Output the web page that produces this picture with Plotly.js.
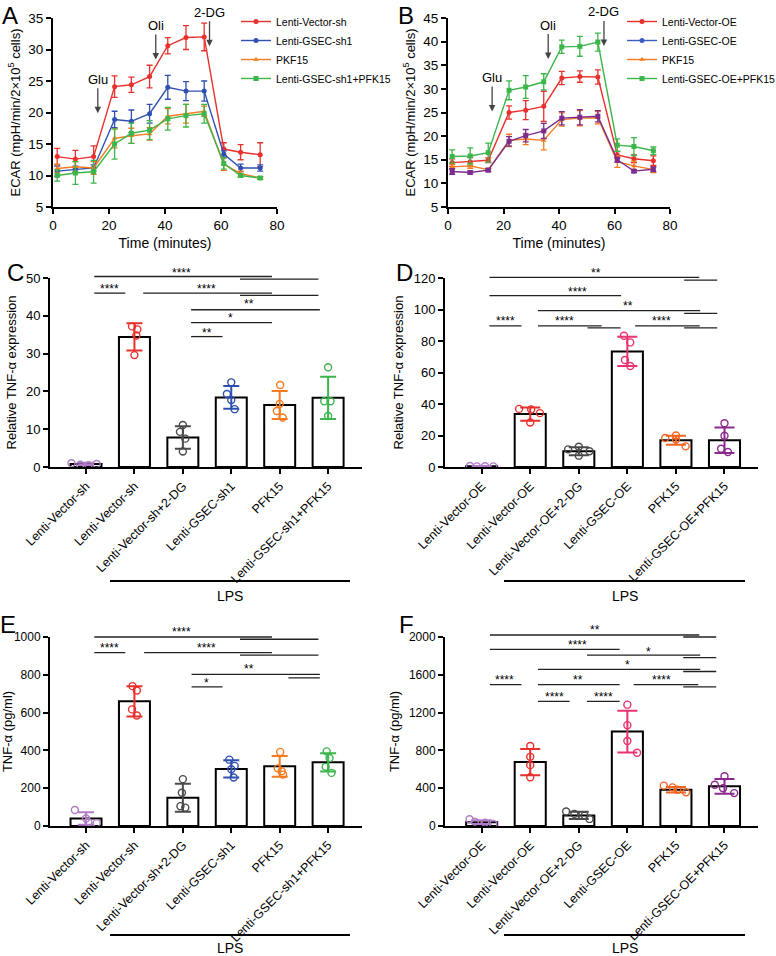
<!DOCTYPE html>
<html><head><meta charset="utf-8">
<script src="https://cdn.plot.ly/plotly-3.0.1.min.js"></script>
<style>html,body{margin:0;padding:0;background:#fff}#chart{width:776px;height:956px}</style>
</head><body><div id="chart"></div>
<script>
// ---------------- DATA ----------------
// Panel A / B : ECAR time courses
const timeMin = [1.5, 8, 14.5, 22, 28, 34.5, 41, 47.5, 54, 61, 67, 74];

const aNames = ["Lenti-Vector-sh", "Lenti-GSEC-sh1", "PKF15", "Lenti-GSEC-sh1+PFK15"];
const aVectorSh      = [13.0, 12.6, 13.0, 24.1, 24.4, 25.7, 30.6, 31.9, 32.0, 14.2, 13.7, 13.3];
const aVectorShErr   = [1.3, 1.4, 1.7, 1.7, 1.2, 1.8, 1.3, 1.9, 2.2, 1.0, 1.2, 1.9];
const aGsecSh1       = [10.7, 11.0, 11.2, 18.9, 18.6, 19.8, 24.0, 23.4, 23.4, 13.4, 11.2, 11.2];
const aGsecSh1Err    = [0.8, 0.5, 0.5, 1.3, 1.8, 1.5, 1.9, 1.5, 1.6, 0.5, 0.6, 0.5];
const aPkf15         = [11.1, 11.4, 11.2, 15.9, 16.3, 16.6, 19.4, 19.8, 20.2, 11.8, 10.3, 9.6];
const aPkf15Err      = [0.7, 0.8, 1.0, 1.5, 1.2, 1.0, 1.2, 1.5, 0.8, 1.0, 0.4, 0.2];
const aGsecSh1Pfk    = [10.0, 10.4, 10.6, 15.0, 16.7, 17.2, 19.0, 19.5, 19.8, 11.9, 10.0, 9.6];
const aGsecSh1PfkErr = [0.9, 1.8, 1.8, 2.4, 1.6, 1.5, 1.8, 1.8, 1.5, 0.9, 0.3, 0.2];

const bNames = ["Lenti-Vector-OE", "Lenti-GSEC-OE", "PKF15", "Lenti-GSEC-OE+PFK15"];
const bVectorOE      = [14.4, 14.6, 14.9, 25.0, 25.5, 26.3, 32.3, 32.6, 32.5, 16.0, 15.2, 14.8];
const bVectorOEErr   = [0.8, 0.9, 0.5, 1.4, 2.0, 3.2, 1.4, 1.2, 1.5, 0.7, 0.8, 1.0];
const bGsecOE        = [12.5, 12.3, 12.8, 18.9, 20.1, 21.1, 23.8, 24.0, 24.2, 15.0, 12.6, 13.0];
const bGsecOEErr     = [0.6, 0.3, 0.3, 1.0, 1.3, 1.6, 1.4, 1.6, 1.2, 0.5, 0.3, 0.5];
const bPkf15         = [13.5, 13.7, 12.9, 19.1, 19.4, 19.1, 23.5, 23.8, 23.9, 14.6, 13.7, 12.9];
const bPkf15Err      = [0.5, 0.5, 0.3, 1.3, 1.2, 2.0, 1.4, 1.6, 1.3, 1.2, 1.0, 0.6];
const bGsecOEPfk     = [15.7, 15.8, 16.5, 29.7, 30.4, 31.5, 38.9, 39.0, 39.9, 18.1, 17.8, 16.9];
const bGsecOEPfkErr  = [1.4, 1.7, 2.0, 2.0, 2.4, 1.7, 1.4, 2.1, 1.9, 1.3, 1.9, 0.8];

const eventLabels = ["Glu", "Oli", "2-DG"];
const aEventTime = [16, 36.7, 55.9];
const aEventTip  = [19.9, 28.4, 30.5];
const bEventTime = [15.9, 36.1, 56.2];
const bEventTip  = [25.2, 36.3, 39.1];

// Panel C / E (sh groups)
const shLabels = ["Lenti-Vector-sh", "Lenti-Vector-sh", "Lenti-Vector-sh+2-DG", "Lenti-GSEC-sh1", "PFK15", "Lenti-GSEC-sh1+PFK15"];
const cMean = [0.8, 34.4, 7.8, 18.4, 16.4, 18.3];
const cSD   = [0.3, 3.6, 3.0, 3.0, 3.7, 5.6];
const cPts  = [[1.0, 0.6, 0.5, 0.8], [37.2, 36.4, 34.8, 29.6], [11.1, 9.3, 7.5, 4.1],
               [22.4, 19.3, 17.7, 15.3], [21.7, 16.7, 14.8, 13.1], [26.4, 17.4, 17.4, 13.5]];
const eMean = [40, 660, 150, 302, 316, 337];
const eSD   = [33, 80, 74, 46, 55, 48];
const ePts  = [[85, 40, 20, 15], [740, 717, 617, 585], [248, 176, 105, 97],
               [351, 318, 300, 257], [392, 305, 290, 272], [395, 360, 313, 281]];

// Panel D / F (OE groups)
const oeLabels = ["Lenti-Vector-OE", "Lenti-Vector-OE", "Lenti-Vector-OE+2-DG", "Lenti-GSEC-OE", "PFK15", "Lenti-GSEC-OE+PFK15"];
const dMean = [0.5, 33.6, 10.0, 73.4, 17.0, 17.0];
const dSD   = [0.2, 4.2, 2.6, 9.3, 2.8, 8.1];
const dPts  = [[0.6, 0.4, 0.5, 0.4], [36.9, 36.5, 34.2, 28.3], [11.2, 12.9, 10.0, 7.2],
               [83.3, 79.1, 67.9, 64.1], [18.4, 20.0, 17.5, 13.1], [27.8, 19.8, 11.6, 9.5]];
const fMean = [40, 676, 112, 999, 384, 420];
const fSD   = [20, 140, 38, 220, 30, 78];
const fPts  = [[71, 46, 36, 21], [846, 732, 644, 516], [153, 128, 110, 75],
               [1284, 1067, 900, 775], [427, 409, 384, 356], [526, 437, 400, 348]];

// significance comparisons: [fromCategory, toCategory, yValue]
const cBrackets = [[0.17,3.84,50.4],[3.18,4.80,49.7],[0.17,0.81,46.0],[1.18,3.84,46.0],[3.18,4.80,45.4],[2.17,4.83,41.6],[2.17,3.84,38.2],[2.17,2.82,34.5]];
const cStars = [["****",1.98,52.2],["****",0.48,48.0],["****",2.49,48.0],["**",3.36,43.8],["*",2.98,40.1],["**",2.49,36.3]];
const dBrackets = [[0.16,4.48,120.4],[4.17,4.85,118.7],[0.16,2.87,108.8],[1.16,4.50,99.3],[4.17,4.85,97.6],[0.16,0.82,89.6],[1.16,2.47,89.6],[2.18,2.86,88.3],[3.16,4.49,89.6],[4.17,4.85,88.3]];
const dStars = [["**",2.36,125.1],["****",1.98,113.2],["**",3.01,103.9],["****",0.49,94.4],["****",1.71,94.4],["****",3.71,94.4]];
const eBrackets = [[0.17,3.84,1000],[3.18,4.80,988],[0.17,0.81,917],[1.20,3.84,917],[3.18,4.80,904],[2.18,4.83,802],[4.18,4.83,784],[2.18,2.82,736]];
const eStars = [["****",1.98,1041],["****",0.48,959],["****",2.49,959],["**",3.36,844],["*",2.49,770]];
const fBrackets = [[0.17,4.48,2021],[4.15,4.83,2000],[0.17,2.84,1869],[2.17,4.50,1809],[4.15,4.83,1781],[1.16,4.50,1657],[4.15,4.83,1635],[0.17,0.82,1497],[1.16,2.84,1497],[3.13,4.46,1497],[4.15,4.83,1473],[1.16,1.81,1319],[2.17,2.84,1319]];
const fStars = [["**",2.34,2106],["****",1.98,1950],["*",3.44,1869],["*",3.01,1738],["****",0.48,1579],["**",1.98,1579],["****",3.70,1579],["****",1.49,1397],["****",2.50,1397]];

// ---------------- STYLE ----------------
const W = 776, H = 956;
const px = p => p / W;
const py = p => 1 - p / H;
const FONT = 'Liberation Sans, Arial, Helvetica, sans-serif';

const colRed = '#e8302c', colBlue = '#2f50b0', colOrange = '#f47b20', colGreen = '#3cb54a';
const colPurpleLight = '#b07cc6', colGrey = '#4a4a4a', colPink = '#e8336f', colOrange2 = '#f26522', colPurple = '#8a2a8c';
const shColors = [colPurpleLight, colRed, colGrey, colBlue, colOrange, colGreen];
const oeColors = [colPurpleLight, colRed, colGrey, colPink, colOrange2, colPurple];

// horizontal scatter of replicate points (style only)
const jitC = [[-0.30,-0.12,0.05,0.22],[-0.05,0.06,0.04,0.0],[0.0,-0.06,0.05,0.0],[0.0,-0.09,0.0,0.07],[0.01,0.0,-0.06,0.06],[0.0,-0.08,0.05,0.0]];
const jitD = [[-0.24,-0.10,0.07,0.24],[-0.23,0.02,0.20,0.0],[-0.22,0.0,0.22,0.0],[-0.07,0.06,-0.05,0.06],[-0.22,0.0,0.0,0.20],[0.0,0.0,-0.07,0.07]];
const jitE = [[-0.23,0.0,0.05,0.22],[-0.04,0.05,-0.05,0.05],[0.0,-0.02,-0.05,0.05],[-0.04,0.07,0.0,0.05],[0.01,-0.04,0.04,0.07],[-0.03,0.03,-0.05,0.07]];
const jitF = [[-0.25,-0.14,0.07,0.24],[0,0,0,0],[-0.26,-0.09,0.12,0.22],[0,0,0,0.2],[-0.25,-0.07,0.03,0.21],[0.0,-0.2,-0.03,0.2]];

const traces = [];

function lineTrace(x, y, err, name, color, symbol, xa, ya, legend, showlegend) {
  return {
    type: 'scatter', mode: 'lines+markers', x: x, y: y, name: name,
    xaxis: xa, yaxis: ya, legend: legend, showlegend: showlegend,
    line: {color: color, width: 1.4},
    marker: {color: color, symbol: symbol, size: 5},
    error_y: {type: 'data', array: err, color: color, thickness: 1.3, width: 3},
    hoverinfo: 'skip'
  };
}

// Panel A
traces.push(lineTrace(timeMin, aVectorSh, aVectorShErr, aNames[0], colRed, 'circle', 'x', 'y', 'legend', true));
traces.push(lineTrace(timeMin, aGsecSh1, aGsecSh1Err, aNames[1], colBlue, 'circle', 'x', 'y', 'legend', true));
traces.push(lineTrace(timeMin, aPkf15, aPkf15Err, aNames[2], colOrange, 'triangle-up', 'x', 'y', 'legend', true));
traces.push(lineTrace(timeMin, aGsecSh1Pfk, aGsecSh1PfkErr, aNames[3], colGreen, 'square', 'x', 'y', 'legend', true));

// Panel B
traces.push(lineTrace(timeMin, bVectorOE, bVectorOEErr, bNames[0], colRed, 'circle', 'x2', 'y2', 'legend2', true));
traces.push(lineTrace(timeMin, bPkf15, bPkf15Err, bNames[2], colOrange, 'triangle-up', 'x2', 'y2', 'legend2', false));
traces.push(lineTrace(timeMin, bGsecOE, bGsecOEErr, bNames[1], '#7b2d8e', 'square', 'x2', 'y2', 'legend2', false));
traces.push(lineTrace(timeMin, bGsecOEPfk, bGsecOEPfkErr, bNames[3], colGreen, 'square', 'x2', 'y2', 'legend2', false));
// legend entries in original order (legend shows blue for Lenti-GSEC-OE)
traces.push({type:'scatter', mode:'lines+markers', x:[null], y:[null], name:bNames[1], xaxis:'x2', yaxis:'y2', legend:'legend2',
  line:{color:'#3a5bbf', width:1.4}, marker:{color:'#3a5bbf', size:5}});
traces.push({type:'scatter', mode:'lines+markers', x:[null], y:[null], name:bNames[2], xaxis:'x2', yaxis:'y2', legend:'legend2',
  line:{color:colOrange, width:1.4}, marker:{color:colOrange, symbol:'triangle-up', size:5}});
traces.push({type:'scatter', mode:'lines+markers', x:[null], y:[null], name:bNames[3], xaxis:'x2', yaxis:'y2', legend:'legend2',
  line:{color:colGreen, width:1.4}, marker:{color:colGreen, symbol:'square', size:5}});

const cats = [0, 1, 2, 3, 4, 5];
function barPanel(mean, sd, pts, jit, colors, xa, ya, bya, brackets, capW) {
  traces.push({type:'bar', x: cats, y: mean, xaxis: xa, yaxis: ya, width: 0.64, showlegend:false, hoverinfo:'skip',
    marker:{color:'#ffffff', line:{color:'#000', width:2}}});
  cats.forEach(i => {
    traces.push({type:'scatter', mode:'markers', x:[i], y:[mean[i]], xaxis: xa, yaxis: ya, showlegend:false, hoverinfo:'skip',
      marker:{size:1, color:'rgba(0,0,0,0)'},
      error_y:{type:'data', array:[sd[i]], color: colors[i], thickness: 2, width: capW}});
    traces.push({type:'scatter', mode:'markers', x: jit[i].map(j => i + j), y: pts[i], xaxis: xa, yaxis: ya, showlegend:false, hoverinfo:'skip',
      marker:{symbol:'circle-open', size:7, color: colors[i], line:{width:1.4}}});
  });
  const bx = [], by = [];
  brackets.forEach(b => { bx.push(b[0], b[1], null); by.push(b[2], b[2], null); });
  traces.push({type:'scatter', mode:'lines', x: bx, y: by, xaxis: xa, yaxis: bya, showlegend:false, hoverinfo:'skip',
    line:{color:'#222', width:1.3}});
}
barPanel(cMean, cSD, cPts, jitC, shColors, 'x3', 'y3', 'y7', cBrackets, 8);
barPanel(dMean, dSD, dPts, jitD, oeColors, 'x4', 'y4', 'y8', dBrackets, 10);
barPanel(eMean, eSD, ePts, jitE, shColors, 'x5', 'y5', 'y9', eBrackets, 8);
barPanel(fMean, fSD, fPts, jitF, oeColors, 'x6', 'y6', 'y10', fBrackets, 10);

// ---------------- LAYOUT ----------------
const axBase = {showline:true, linewidth:2, linecolor:'#000', ticks:'outside', ticklen:5, tickwidth:2, tickcolor:'#000',
  showgrid:false, zeroline:false, tickfont:{size:13.5, color:'#000'}, automargin:false, fixedrange:true};

const yTop1 = 18, yBot1 = 207;
const yTop2 = 278, yBot2 = 467;
const yTop3 = 637, yBot3 = 826;
const catRangeSh = [-0.744, 5.70];
const catRangeOe = [-0.755, 5.69];

function catAxis(dom, rng, labels, anchor) {
  return Object.assign({}, axBase, {domain: dom, range: rng, anchor: anchor, tickvals: cats, ticktext: labels,
    tickangle: -45, tickfont:{size:12.5, color:'#000'}});
}
function extAxis(dom, rng, anchor, extra) {
  const h = dom[1] - dom[0];
  return {domain:[dom[0], dom[1] + extra], range:[rng[0], rng[0] + (rng[1] - rng[0]) * (h + extra) / h],
    visible:false, anchor: anchor, fixedrange:true, showgrid:false, zeroline:false};
}

const dA = [py(yBot1), py(yTop1)], dC = [py(yBot2), py(yTop2)], dE = [py(yBot3), py(yTop3)];

const layout = {
  width: W, height: H, margin:{l:0, r:0, t:0, b:0, autoexpand:false}, paper_bgcolor:'#fff', plot_bgcolor:'rgba(0,0,0,0)',
  font:{family: FONT, color:'#000', size:13}, showlegend:true, barmode:'overlay',
  xaxis: Object.assign({}, axBase, {domain:[px(53), px(277)], range:[0, 80], dtick:20, anchor:'y',
    title:{text:'Time (minutes)', font:{size:14}, standoff:6}}),
  yaxis: Object.assign({}, axBase, {domain: dA, range:[5, 35], dtick:5, anchor:'x',
    title:{text:'ECAR (mpH/min/2×10<sup>5</sup> cells)', font:{size:13}, standoff:5}}),
  xaxis2: Object.assign({}, axBase, {domain:[px(448), px(670)], range:[0, 80], dtick:20, anchor:'y2',
    title:{text:'Time (minutes)', font:{size:14}, standoff:6}}),
  yaxis2: Object.assign({}, axBase, {domain: dA, range:[5, 45], dtick:5, anchor:'x2',
    title:{text:'ECAR (mpH/min/2×10<sup>5</sup> cells)', font:{size:13}, standoff:5}}),
  xaxis3: catAxis([px(50), px(362)], catRangeSh, shLabels, 'y3'),
  yaxis3: Object.assign({}, axBase, {domain: dC, range:[0, 50], dtick:10, anchor:'x3', tickfont:{size:13, color:'#000'},
    title:{text:'Relative TNF-α expression', font:{size:13}, standoff:6}}),
  xaxis4: catAxis([px(445), px(758)], catRangeOe, oeLabels, 'y4'),
  yaxis4: Object.assign({}, axBase, {domain: dC, range:[0, 120], dtick:20, anchor:'x4', tickfont:{size:13, color:'#000'},
    title:{text:'Relative TNF-α expression', font:{size:13}, standoff:7}}),
  xaxis5: catAxis([px(50), px(362)], catRangeSh, shLabels, 'y5'),
  yaxis5: Object.assign({}, axBase, {domain: dE, range:[0, 1000], dtick:200, anchor:'x5', tickfont:{size:12, color:'#000'},
    title:{text:'TNF-α (pg/ml)', font:{size:13}, standoff:3}}),
  xaxis6: catAxis([px(445), px(758)], catRangeOe, oeLabels, 'y6'),
  yaxis6: Object.assign({}, axBase, {domain: dE, range:[0, 2000], dtick:400, anchor:'x6', tickfont:{size:12, color:'#000'},
    title:{text:'TNF-α (pg/ml)', font:{size:13}, standoff:6}}),
  yaxis7: extAxis(dC, [0, 50], 'x3', 0.035),
  yaxis8: extAxis(dC, [0, 120], 'x4', 0.035),
  yaxis9: extAxis(dE, [0, 1000], 'x5', 0.035),
  yaxis10: extAxis(dE, [0, 2000], 'x6', 0.035),
  legend: {x: px(236), y: py(7), xanchor:'left', yanchor:'top', bgcolor:'rgba(0,0,0,0)', font:{size:10.5}, traceorder:'normal', tracegroupgap:0},
  legend2: {x: px(622), y: py(7), xanchor:'left', yanchor:'top', bgcolor:'rgba(0,0,0,0)', font:{size:10.5}, traceorder:'normal', tracegroupgap:0},
  annotations: [], shapes: []
};

// event arrows in A and B
eventLabels.forEach((t, i) => {
  layout.annotations.push({xref:'x', yref:'y', x: aEventTime[i], y: aEventTip[i], text: t, showarrow:true, ax:0, ay:-34,
    arrowhead:2, arrowsize:1, arrowwidth:1.3, arrowcolor:'#444', font:{size:13}});
  layout.annotations.push({xref:'x2', yref:'y2', x: bEventTime[i], y: bEventTip[i], text: t, showarrow:true, ax:0, ay:-34,
    arrowhead:2, arrowsize:1, arrowwidth:1.3, arrowcolor:'#444', font:{size:13}});
});

// significance stars
function stars(list, xa, ya) {
  list.forEach(s => layout.annotations.push({xref: xa, yref: ya, x: s[1], y: s[2], text: s[0], showarrow:false,
    font:{size:12}, xanchor:'center', yanchor:'middle', yshift:-3}));
}
stars(cStars, 'x3', 'y7'); stars(dStars, 'x4', 'y8'); stars(eStars, 'x5', 'y9'); stars(fStars, 'x6', 'y10');

// panel letters
[['A', 10, 15], ['B', 406, 15], ['C', 15, 272], ['D', 404, 272], ['E', 8, 624], ['F', 406, 624]].forEach(l => {
  layout.annotations.push({xref:'paper', yref:'paper', x: px(l[1]), y: py(l[2]), text: l[0], showarrow:false,
    xanchor:'center', yanchor:'middle', font:{size:24}});
});

// LPS bars
[[110, 350, 581, 596], [504, 745, 581, 596], [110, 350, 935, 948], [504, 745, 935, 948]].forEach(b => {
  layout.shapes.push({type:'line', xref:'paper', yref:'paper', x0: px(b[0]), x1: px(b[1]), y0: py(b[2]), y1: py(b[2]),
    line:{color:'#000', width:2}});
  layout.annotations.push({xref:'paper', yref:'paper', x: px((b[0] + b[1]) / 2), y: py(b[3]), text:'LPS', showarrow:false,
    xanchor:'center', yanchor:'middle', font:{size:14}});
});

Plotly.newPlot('chart', traces, layout, {staticPlot:true, displayModeBar:false});
</script>
</body></html>
